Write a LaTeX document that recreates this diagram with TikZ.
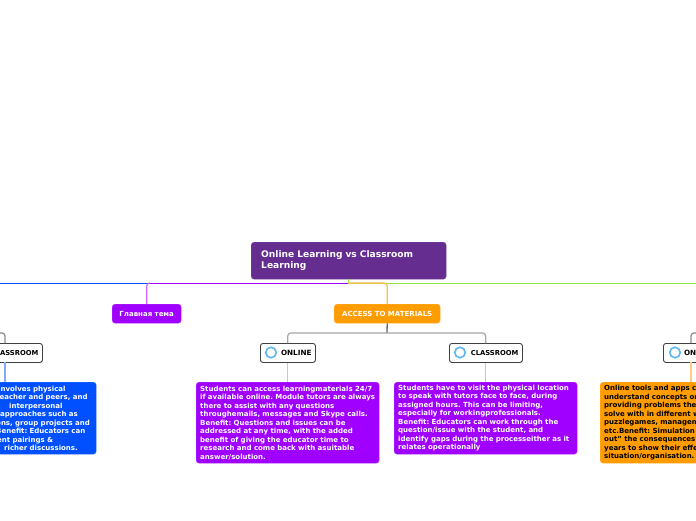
\documentclass[tikz,border=0pt]{standalone}
\usepackage{fontspec}
\setmainfont{DejaVu Sans}
\definecolor{mainc}{HTML}{662D91}
\definecolor{purp}{HTML}{A000FF}
\definecolor{orng}{HTML}{FF9C00}
\definecolor{blu}{HTML}{0050FF}
\definecolor{lime}{HTML}{90E640}
\definecolor{ring}{HTML}{5CB8F0}
\tikzset{
 x=1pt,y=-1pt,
 boxbase/.style={rounded corners=3pt,anchor=north west,inner sep=0pt,align=left,font=\bfseries\fontsize{7}{8.5}\selectfont\frenchspacing},
 desc/.style={boxbase,text=white,minimum width=183pt,text width=175pt},
 tagbox/.style={rounded corners=3pt,anchor=north west,inner sep=0pt,align=center,minimum height=19pt,text=white,font=\bfseries\fontsize{7}{8.5}\selectfont},
 pill/.style={rounded corners=2.5pt,anchor=north west,inner xsep=4pt,inner ysep=0pt,minimum height=19pt,draw=black!75,line width=0.9pt,fill=white,align=right,text=black,font=\bfseries\fontsize{7.2}{8.5}\selectfont},
 pillwide/.style={pill,text width=65pt,font=\bfseries\fontsize{6.8}{8.5}\selectfont},
 ringmark/.style={circle,draw=ring,line width=1.6pt,fill=white,minimum size=10.5pt,inner sep=0pt},
 link/.style={line width=1.2pt,rounded corners=3pt},
 trunk/.style={line width=0.9pt},
}
\begin{document}
\begin{tikzpicture}
\useasboundingbox (0,0) rectangle (696,520);
\clip (0,0) rectangle (696,520);
% nodes
\node[boxbase,fill=mainc,draw=mainc!85!white,text=white,minimum width=195pt,minimum height=37pt,text width=175pt,font=\bfseries\fontsize{9.1}{11.1}\selectfont] (main) at (251,242) {Online Learning vs Classroom\\Learning};
\node[tagbox,fill=purp,draw=purp!80!white,minimum width=69pt] (tema) at (112,304) {Главная тема};
\node[tagbox,fill=orng,draw=orng!80!white,minimum width=106pt] (access) at (334,304) {ACCESS TO MATERIALS};
\node[pill,text width=47pt] (on1) at (260,343) {ONLINE};
\node[pillwide] (cl1) at (449,343) {CLASSROOM};
\node[pillwide] (cl0) at (-31,343) {CLASSROOM};
\node[pill,text width=47pt] (on2) at (663,343) {ONLINE};
\node[ringmark] (r1) at (271,352.5) {};
\node[ringmark] (r2) at (460,352.5) {};
\node[ringmark] (r3) at (675,352.5) {};
\node[desc,fill=blu,draw=blu!80!white,minimum height=72pt] (d0) at (-87,382) {%
\hspace*{81pt}involves physical\\
\hspace*{79pt}teacher and peers, and\\
\hspace*{92pt}interpersonal\\
\hspace*{83pt}approaches such as\\
\hspace*{79pt}ons, group projects and\\
\hspace*{79pt}Benefit: Educators can\\
\hspace*{80pt}ent pairings \&\\
\hspace*{87pt}richer discussions.};
\node[desc,fill=purp,draw=purp!80!white,minimum height=81pt] (d1) at (196,382) {Students can access learningmaterials 24/7\\
if available online. Module tutors are always\\
there to assist with any questions\\
throughemails, messages and Skype calls.\\
Benefit: Questions and issues can be\\
addressed at any time, with the added\\
benefit of giving the educator time to\\
research and come back with asuitable\\
answer/solution.};
\node[desc,fill=purp,draw=purp!80!white,minimum height=72pt] (d2) at (394,382) {Students have to visit the physical location\\
to speak with tutors face to face, during\\
assigned hours. This can be limiting,\\
especially for workingprofessionals.\\
Benefit: Educators can work through the\\
question/issue with the student, and\\
identify gaps during the processeither as it\\
relates operationally};
\node[desc,fill=orng,draw=orng!80!white,text=black,minimum height=81pt] (d3) at (600,382) {Online tools and apps can\\
understand concepts or\\
providing problems they\\
solve with in different ways\\
puzzlegames, management\\
etc.Benefit: Simulation\\
out" the consequences\\
years to show their effect\\
situation/organisation.};
% trunk
\coordinate (jl) at (0,283);
\coordinate (jt) at (147,283);
\coordinate (jm) at (348,283);
\coordinate (jr) at (696,283);
\draw[trunk,blu] (jl) -- (jt);
\draw[trunk,purp] (jt) -- (jm);
\draw[trunk,lime] (main.south -| jm) -- (jm) -- (jr);
\draw[link,purp!60!white] (jt) ++(3,0) -| (tema.north);
\draw[link,orng!70!white] (access.north) |- (jm);
% branches
\coordinate (fork) at (387,333);
\coordinate (forkl) at (0,333);
\coordinate (forkr) at (696,333);
\draw[black!60,line width=1.3pt] (access.south) -- (fork);
\draw[link,black!35] (on1.north -| d1.north) |- (fork) -| (cl1.north -| d2.north);
\draw[link,black!45] (forkl) -| (5,343);
\draw[link,black!45] (forkr) -| (691,343);
\coordinate (up0) at (5,362);
\coordinate (dn0) at (5,382);
\coordinate (up3) at (691,362);
\coordinate (dn3) at (691,382);
\draw[blu!50!white,line width=1.1pt] (up0) -- (dn0);
\draw[purp!30!white,line width=1.1pt] (on1.south -| d1.north) -- (d1.north);
\draw[purp!30!white,line width=1.1pt] (cl1.south -| d2.north) -- (d2.north);
\draw[orng!50!white,line width=1.1pt] (up3) -- (dn3);
\end{tikzpicture}
\end{document}
